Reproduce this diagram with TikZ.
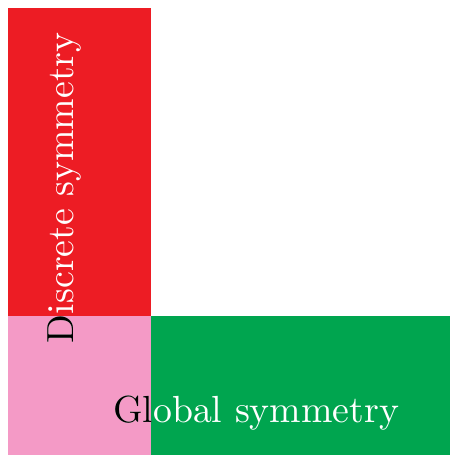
\documentclass[tikz,border=0pt]{standalone}
\definecolor{symRed}{HTML}{ED1C24}
\definecolor{symPink}{HTML}{F49AC6}
\definecolor{symGreen}{HTML}{00A54F}
\tikzset{
  sym diagram/.style={
    x=0.02cm, y=-0.02cm,
    every node/.style={font=\normalsize, scale=2.15,
      inner sep=0pt, outer sep=0pt}
  },
  sym label/.style={text=white},
  sym overlap label/.style={text=black}
}
\begin{document}
\begin{tikzpicture}[sym diagram]
    \useasboundingbox (0,0) rectangle (450,455);
    \fill[symRed] (8,8) rectangle (151,316);
    \fill[symGreen] (151,316) rectangle (450,455);
    \fill[symPink] (8,316) rectangle (151,455);
    \node[sym label,anchor=base west,rotate=90] (discrete) at (73,343) {Discrete symmetry};
    \node[sym label,anchor=base west] (global) at (113,422) {Global symmetry};
    % the part of each label over the overlap is black
    \begin{scope}
      \clip (8,316) rectangle (151,455);
      \node[sym overlap label,anchor=base west,rotate=90] (discrete dark) at (73,343) {Discrete symmetry};
      \node[sym overlap label,anchor=base west] (global dark) at (113,422) {Global symmetry};
    \end{scope}
  \end{tikzpicture}
\end{document}
